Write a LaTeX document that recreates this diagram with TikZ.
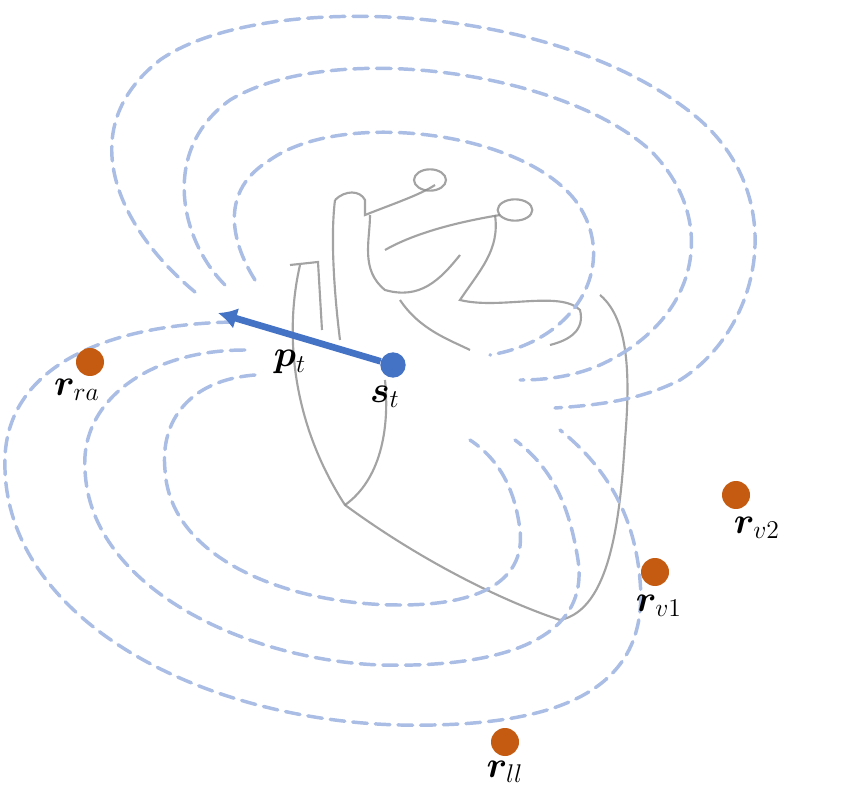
\documentclass[tikz,border=0pt]{standalone}
\usepackage{amsmath,bm}
\usetikzlibrary{arrows.meta}
\begin{document}
\begin{tikzpicture}[x=0.75pt,y=-0.75pt,
  field/.style={draw={rgb,255:red,170;green,189;blue,228},line width=2.6pt,dash pattern=on 11pt off 6pt,line cap=round},
  heartline/.style={draw=black!45,line width=1.6pt,opacity=0.8},
  elec/.style={circle,fill={rgb,255:red,197;green,90;blue,17},minimum size=21pt,inner sep=0},
  lab/.style={inner sep=0,font=\LARGE,scale=1.6,transform shape}]
\useasboundingbox (0,0) rectangle (847,802);
% heart
\draw[heartline] (300,265) .. controls (285,330) and (290,420) .. (345,505) .. controls (420,560) and (500,600) .. (560,620) .. controls (610,610) and (620,520) .. (625,440) .. controls (630,380) and (630,320) .. (600,295);
\draw[heartline] (345,505) .. controls (380,480) and (390,430) .. (385,380);
\draw[heartline] (290,265) -- (318,262) -- (322,330);
\draw[heartline] (335,200) .. controls (330,240) and (335,300) .. (340,340);
\draw[heartline] (335,200) .. controls (345,190) and (360,190) .. (365,200) -- (365,215) .. controls (390,205) and (420,195) .. (435,185);
\draw[heartline] (430,180) ellipse (12pt and 8pt);
\draw[heartline] (370,215) .. controls (370,240) and (360,270) .. (385,290) .. controls (420,300) and (440,280) .. (460,255);
\draw[heartline] (385,250) .. controls (420,230) and (470,220) .. (500,215);
\draw[heartline] (515,210) ellipse (13pt and 8pt);
\draw[heartline] (495,215) .. controls (500,250) and (480,270) .. (460,300) .. controls (500,310) and (560,290) .. (580,310) .. controls (585,330) and (570,340) .. (550,345);
\draw[heartline] (400,300) .. controls (420,330) and (450,340) .. (470,350);
% field lines upper
\draw[field] (195,292) .. controls (120,230) and (70,130) .. (160,60) .. controls (260,-10) and (560,0) .. (700,120) .. controls (790,200) and (760,330) .. (680,380) .. controls (640,400) and (600,405) .. (555,408);
\draw[field] (225,285) .. controls (180,240) and (160,150) .. (230,100) .. controls (330,40) and (560,70) .. (650,150) .. controls (720,220) and (700,320) .. (600,365) .. controls (570,378) and (540,380) .. (520,380);
\draw[field] (255,280) .. controls (230,240) and (220,190) .. (270,160) .. controls (340,110) and (520,130) .. (575,200) .. controls (620,260) and (580,340) .. (490,355);
% field lines lower
\draw[field] (232,322) .. controls (100,325) and (0,370) .. (5,470) .. controls (10,620) and (200,720) .. (400,725) .. controls (560,728) and (650,690) .. (640,580) .. controls (635,520) and (610,470) .. (560,430);
\draw[field] (245,350) .. controls (150,350) and (80,400) .. (85,470) .. controls (90,590) and (250,660) .. (380,665) .. controls (500,668) and (590,640) .. (578,560) .. controls (570,510) and (555,470) .. (515,440);
\draw[field] (255,375) .. controls (190,380) and (160,420) .. (165,470) .. controls (170,560) and (290,605) .. (400,605) .. controls (490,605) and (525,575) .. (520,530) .. controls (515,490) and (500,460) .. (470,440);
% dots
\node[elec] (ra) at (90,362) {};
\node[elec] (v2) at (736,495) {};
\node[elec] (v1) at (655,572) {};
\node[elec] (ll) at (505,742) {};
\node[circle,fill={rgb,255:red,68;green,114;blue,196},minimum size=19pt,inner sep=0] (s) at (393,365) {};
\coordinate (ptip) at (218,313);
\draw[-{Latex[length=14pt,width=16pt]},line width=5pt,draw={rgb,255:red,68;green,114;blue,196}] (s) -- (ptip);
% labels
\node (lra) at (77,390) [lab] {$\bm{r}_{ra}$};
\node (lv2) at (757,528) [lab] {$\bm{r}_{v2}$};
\node (lv1) at (659,606) [lab] {$\bm{r}_{v1}$};
\node (lll) at (505,772) [lab] {$\bm{r}_{ll}$};
\node (lp) at (290,362) [lab] {$\bm{p}_t$};
\node (ls) at (385,397) [lab] {$\bm{s}_t$};
\end{tikzpicture}
\end{document}
